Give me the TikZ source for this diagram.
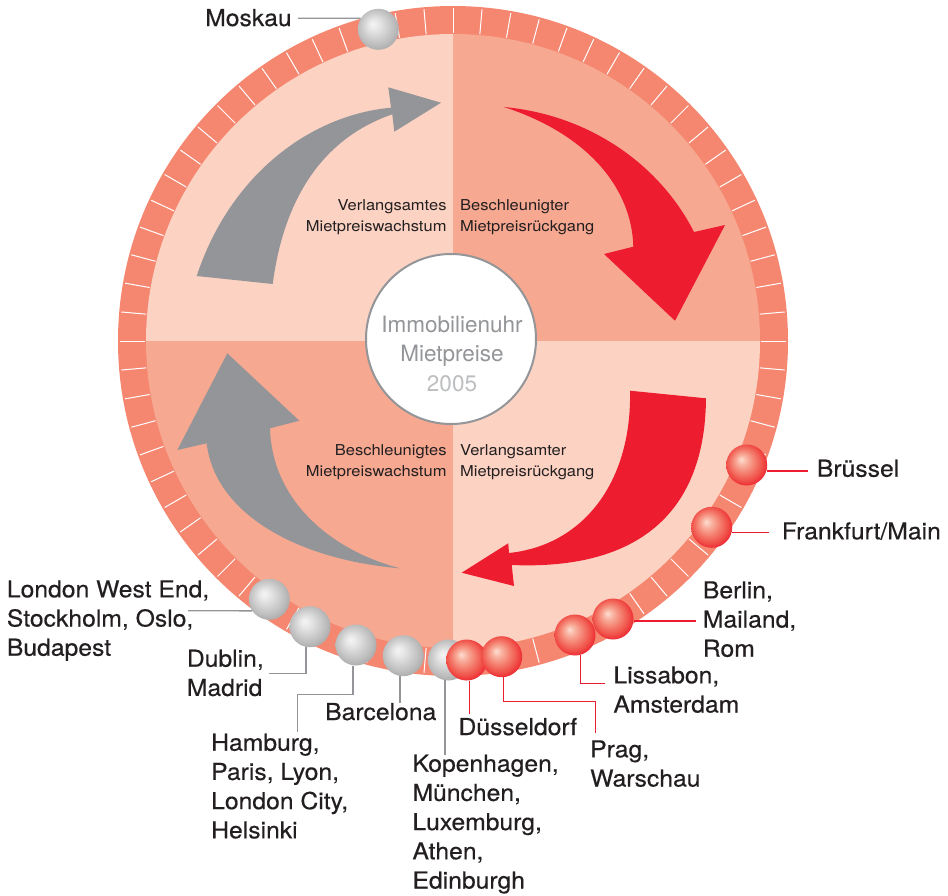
\documentclass[tikz,border=0pt]{standalone}
\usepackage{fontspec}
\setmainfont{TeX Gyre Heros}
\newfontfamily\cityfont[FakeBold=0.4,FakeStretch=1.06]{TeX Gyre Heros}
\newfontfamily\innerfont[FakeStretch=1.1]{TeX Gyre Heros}
\definecolor{ringc}{RGB}{245,135,112}
\definecolor{lightq}{RGB}{252,210,195}
\definecolor{darkq}{RGB}{247,168,145}
\definecolor{arrgray}{RGB}{147,149,152}
\definecolor{arrred}{RGB}{237,28,46}
\definecolor{txt}{RGB}{35,31,32}
\definecolor{hubgray}{RGB}{147,149,152}
\definecolor{hublight}{RGB}{188,190,192}
\definecolor{rb1}{RGB}{253,222,210}
\definecolor{rb2}{RGB}{249,178,160}
\definecolor{rb3}{RGB}{244,128,112}
\definecolor{rb4}{RGB}{240,80,72}
\pgfdeclareradialshading{gballsh}{\pgfpoint{-7bp}{7bp}}{color(0bp)=(gray!8); color(6bp)=(gray!18); color(14bp)=(gray!35); color(22bp)=(gray!52); color(30bp)=(gray!72); color(37bp)=(gray!85)}
\pgfdeclareradialshading{rballsh}{\pgfpoint{-7bp}{7bp}}{color(0bp)=(rb1); color(6bp)=(rb2); color(14bp)=(rb3); color(22bp)=(rb4); color(29bp)=(arrred); color(37bp)=(arrred!90!black)}
\newcommand{\citylines}[1]{\begin{tabular}[t]{@{}l@{}}#1\end{tabular}}
\tikzset{
  grayball/.style={circle, minimum size=41pt, inner sep=0pt, shading=gballsh},
  redball/.style={circle, minimum size=41pt, inner sep=0pt, shading=rballsh},
  city/.style={anchor=base west, inner sep=0pt, text=txt, font={\cityfont\fontsize{23.3}{29.2}\selectfont}},
  innerl/.style={inner sep=0pt, text=txt, font={\innerfont\fontsize{15}{21.7}\selectfont}},
  leadg/.style={draw=arrgray, line width=1.3pt},
  leadr/.style={draw=arrred, line width=1.3pt},
}
\begin{document}
\begin{tikzpicture}[x=1pt, y=-1pt]
\useasboundingbox[fill=white] (0,0) rectangle (948,895);
% ring and quadrants
\fill[ringc] (453,341) circle (335);
\begin{scope}
  \clip (453,341) circle (307);
  \fill[lightq] (140,30) rectangle (453,341);
  \fill[darkq] (453,30) rectangle (770,341);
  \fill[darkq] (140,341) rectangle (453,660);
  \fill[lightq] (453,341) rectangle (770,660);
\end{scope}
\begin{scope}[shift={(453,341)}]
  \foreach \a in {0,5,...,355} \draw[white, line width=1pt] (\a:308) -- (\a:333);
\end{scope}
% arrows
\fill[arrgray] (196.7,276) -- (272.7,284) .. controls (283,205) and (318,140) .. (392.3,114.3) -- (394.3,131.7) -- (441,102.7) -- (388.3,87.3) -- (391,107.7) .. controls (310,115) and (230,175) .. (196.7,276) -- cycle;
\fill[arrred] (504,107) .. controls (590,115) and (660,165) .. (694,232) -- (725,225) -- (675,320.7) -- (604,254) -- (633.3,246.7) .. controls (632,190) and (590,135) .. (504,107) -- cycle;
\fill[arrred] (630,390.7) -- (706,398.3) .. controls (705,520) and (630,570) .. (511.7,565) -- (514,586) -- (461.7,572.7) -- (508.3,543.3) -- (509,553) .. controls (585,545) and (632,480) .. (630,390.7) -- cycle;
\fill[arrgray] (227.3,353.3) -- (299.3,420.7) -- (270,428.3) .. controls (272,500) and (330,550) .. (400,568.3) .. controls (300,560) and (215,515) .. (206.7,443.3) -- (177.3,450) -- cycle;
% hub
\node[circle, draw=hubgray, line width=2pt, fill=white, minimum size=170pt, inner sep=0pt] (hub) at (451,339) {};
\node[anchor=base, inner sep=0pt, font={\fontsize{22.5}{29.5}\selectfont}] (hubtext) at (452,332)
  {\begin{tabular}[t]{@{}c@{}}\textcolor{hubgray}{Immobilienuhr}\\\textcolor{hubgray}{Mietpreise}\\\textcolor{hublight}{2005}\end{tabular}};
% inner labels
\node[innerl, anchor=base east] (q1) at (446.7,210) {\begin{tabular}[t]{@{}r@{}}Verlangsamtes\\Mietpreiswachstum\end{tabular}};
\node[innerl, anchor=base west] (q2) at (460,210) {\begin{tabular}[t]{@{}l@{}}Beschleunigter\\Mietpreisrückgang\end{tabular}};
\node[innerl, anchor=base east] (q3) at (446.7,455) {\begin{tabular}[t]{@{}r@{}}Beschleunigtes\\Mietpreiswachstum\end{tabular}};
\node[innerl, anchor=base west] (q4) at (460,455) {\begin{tabular}[t]{@{}l@{}}Verlangsamter\\Mietpreisrückgang\end{tabular}};
% balls
\node[grayball] (moskau) at (378.3,29.3) {};
\node[grayball] (london) at (269.3,599.3) {};
\node[grayball] (dublin) at (310,626.7) {};
\node[grayball] (hamburg) at (356,645) {};
\node[grayball] (barcelona) at (403.3,655.7) {};
\node[grayball] (kopenhagen) at (448.3,660) {};
\node[redball] (duesseldorf) at (466.7,660) {};
\node[redball] (prag) at (501.7,656.7) {};
\node[redball] (lissabon) at (575,635) {};
\node[redball] (berlin) at (613,619) {};
\node[redball] (frankfurt) at (711.7,527.3) {};
\node[redball] (bruessel) at (746.7,465) {};
% leader end points
\coordinate (mkend) at (298,18.3);
\coordinate (lwend) at (188,610.7);
\coordinate (dbend) at (269.3,673.3);
\coordinate (hbknee) at (297.7,694.3);
\coordinate (hbend) at (297.7,731.7);
\coordinate (bcend) at (400,703.3);
\coordinate (kpend) at (445,755);
\coordinate (dsend) at (469.3,714);
\coordinate (prknee) at (595.7,701.7);
\coordinate (prend) at (595.7,733.3);
\coordinate (lsend) at (605,683.3);
\coordinate (brend) at (696,621);
\coordinate (ffend) at (769.3,532.3);
\coordinate (bsend) at (807.7,471);
% leaders
\draw[leadg] (mkend) -- (moskau.148);
\draw[leadg] (lwend) -- (london.214);
\draw[leadg] (dublin.-101) |- (dbend);
\draw[leadg] (hamburg.-98) |- (hbknee) -- (hbend);
\draw[leadg] (barcelona.-99) -- (barcelona.-99 |- bcend);
\draw[leadg] (kopenhagen.-99) -- (kopenhagen.-99 |- kpend);
\draw[leadr] (duesseldorf.-83) -- (duesseldorf.-83 |- dsend);
\draw[leadr] (prag.-85) |- (prknee) -- (prend);
\draw[leadr] (lissabon.-75) |- (lsend);
\draw[leadr] (brend) -- (brend -| berlin.east);
\draw[leadr] (ffend) -- (ffend -| frankfurt.east);
\draw[leadr] (bsend) -- (bsend -| bruessel.east);
% city labels
\node[city] (lmoskau) at (205,26) {Moskau};
\node[city] (lbruessel) at (816.7,476.7) {Brüssel};
\node[city] (lfrankfurt) at (781.7,539.3) {Frankfurt/Main};
\node[city] (lberlin) at (702.7,598.3) {\citylines{Berlin,\\Mailand,\\Rom}};
\node[city] (llissabon) at (613.3,683.3) {\citylines{Lissabon,\\Amsterdam}};
\node[city] (lduesseldorf) at (458.3,735) {Düsseldorf};
\node[city] (lprag) at (590,757.3) {\citylines{Prag,\\Warschau}};
\node[city] (lkopenhagen) at (412.3,771.7) {\citylines{Kopenhagen,\\München,\\Luxemburg,\\Athen,\\Edinburgh}};
\node[city] (lhamburg) at (211,750.7) {\citylines{Hamburg,\\Paris, Lyon,\\London City,\\Helsinki}};
\node[city] (lbarcelona) at (325,720) {Barcelona};
\node[city] (ldublin) at (186.7,666.7) {\citylines{Dublin,\\Madrid}};
\node[city] (llondon) at (6.7,597.3) {\citylines{London West End,\\Stockholm, Oslo,\\Budapest}};
\end{tikzpicture}
\end{document}
